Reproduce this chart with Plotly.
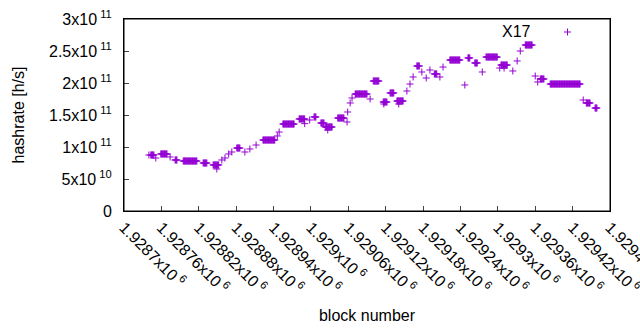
import plotly.graph_objects as go

# Runs of consecutive blocks sharing the same hashrate value (GH/s)
run_first_block = [1928740, 1928743, 1928751, 1928759, 1928774, 1928782, 1928795, 1928827,
                   1928843, 1928849, 1928857, 1928862, 1928868, 1928873, 1928881, 1928894,
                   1928902, 1928912, 1928923, 1928946, 1928949, 1928955, 1928981, 1928990,
                   1928998, 1929005, 1929016, 1929023, 1929027, 1929043, 1929058, 1929059,
                   1929063, 1929066, 1929071, 1929095, 1929100, 1929116, 1929117, 1929127,
                   1929138, 1929141, 1929154, 1929159, 1929164, 1929170, 1929178, 1929185,
                   1929191, 1929198, 1929207, 1929212, 1929223, 1929247, 1929252, 1929263,
                   1929275, 1929281, 1929303, 1929305, 1929310, 1929324, 1929331, 1929336,
                   1929344, 1929360, 1929364, 1929368, 1929384, 1929437, 1929442, 1929456]
run_last_block = [1928740, 1928748, 1928751, 1928769, 1928774, 1928785, 1928817, 1928833,
                  1928852, 1928849, 1928857, 1928862, 1928868, 1928873, 1928886, 1928894,
                  1928902, 1928912, 1928942, 1928946, 1928949, 1928973, 1928990, 1928990,
                  1928998, 1929008, 1929021, 1929034, 1929027, 1929053, 1929058, 1929059,
                  1929063, 1929066, 1929090, 1929095, 1929109, 1929122, 1929117, 1929133,
                  1929148, 1929141, 1929154, 1929159, 1929164, 1929174, 1929178, 1929185,
                  1929191, 1929202, 1929207, 1929212, 1929239, 1929247, 1929255, 1929267,
                  1929275, 1929299, 1929303, 1929315, 1929310, 1929324, 1929331, 1929336,
                  1929355, 1929360, 1929364, 1929374, 1929432, 1929437, 1929448, 1929459]
run_hashrate_gh = [87.5, 87.5, 82.8, 89.1, 84.4, 79.7, 78.1, 75.0,
                   71.9, 65.6, 79.7, 82.8, 89.1, 92.2, 98.4, 92.2,
                   96.9, 103.1, 110.9, 117.2, 123.4, 135.9, 143.8, 136.5,
                   142.2, 146.9, 137.5, 131.3, 126.6, 145.3, 139.1, 154.7,
                   168.8, 176.6, 182.8, 175.0, 203.1, 170.3, 167.2, 184.4,
                   171.9, 167.2, 187.5, 198.4, 209.4, 226.6, 217.2, 207.8,
                   220.3, 214.1, 209.4, 225.0, 235.9, 196.9, 239.1, 231.3,
                   217.2, 240.6, 223.4, 228.1, 223.4, 218.8, 234.4, 250.0,
                   259.4, 210.9, 201.6, 206.3, 198.4, 173.4, 168.8, 160.9]

x_tick_vals = [1928700, 1928760, 1928820, 1928880, 1928940, 1929000, 1929060,
               1929120, 1929180, 1929240, 1929300, 1929360, 1929420, 1929480]
x_tick_text = ["1.9287x10<sup> 6</sup>", "1.92876x10<sup> 6</sup>", "1.92882x10<sup> 6</sup>",
               "1.92888x10<sup> 6</sup>", "1.92894x10<sup> 6</sup>", "1.929x10<sup> 6</sup>",
               "1.92906x10<sup> 6</sup>", "1.92912x10<sup> 6</sup>", "1.92918x10<sup> 6</sup>",
               "1.92924x10<sup> 6</sup>", "1.9293x10<sup> 6</sup>", "1.92936x10<sup> 6</sup>",
               "1.92942x10<sup> 6</sup>", "1.92948x10<sup> 6</sup>"]
y_tick_vals = [0, 5e10, 1e11, 1.5e11, 2e11, 2.5e11, 3e11]
y_tick_text = ["0", "5x10<sup> 10</sup>", "1x10<sup> 11</sup>", "1.5x10<sup> 11</sup>",
               "2x10<sup> 11</sup>", "2.5x10<sup> 11</sup>", "3x10<sup> 11</sup>"]

series_name = "X17"
x_title = "block number"
y_title = "hashrate [h/s]"
color = "#9400D3"
font_family = "Liberation Sans, Arial, sans-serif"
fs = 16

blocks, rates = [], []
for first, last, h in zip(run_first_block, run_last_block, run_hashrate_gh):
    for b in range(first, last + 1):
        blocks.append(b)
        rates.append(h * 1e9)

fig = go.Figure()
fig.add_trace(go.Scatter(
    x=blocks, y=rates, mode="markers", name=series_name, showlegend=False,
    marker=dict(symbol="cross-thin", size=5, color=color,
                line=dict(color=color, width=1)),
))

axis_common = dict(showline=True, linecolor="black", linewidth=1, mirror=True,
                   ticks="inside", ticklen=5, showgrid=False,
                   zeroline=False, automargin=False, ticklabeloverflow="allow",
                   tickfont=dict(family=font_family, size=fs, color="black"))

fig.update_xaxes(range=[1928700, 1929480], tickvals=x_tick_vals, ticktext=x_tick_text,
                 tickangle=45,
                 title=dict(text=x_title, standoff=14,
                            font=dict(family=font_family, size=fs, color="black")),
                 **axis_common)
fig.update_yaxes(range=[0, 3e11], tickvals=y_tick_vals, ticktext=y_tick_text,
                 ticklabelstandoff=8,
                 title=dict(text=y_title, standoff=20,
                            font=dict(family=font_family, size=fs, color="black")),
                 **axis_common)

L, R, T, B = 124, 30, 19, 119
pw, ph = 640 - L - R, 330 - T - B

def px(x):
    return (x - L) / pw

def py(y):
    return (330 - B - y) / ph

# plot frame (fallback)
fig.add_shape(type="rect", xref="paper", yref="paper", x0=0, x1=1, y0=0, y1=1,
              line=dict(color="black", width=1), layer="above")

fig.add_annotation(text=series_name, x=px(533), y=py(31.5), xref="paper", yref="paper",
                   showarrow=False, xanchor="right", yanchor="middle",
                   font=dict(family=font_family, size=fs, color="black"))
# legend key sample (+)
cx, cy = 567.5, 32
fig.add_shape(type="line", xref="paper", yref="paper", x0=px(cx - 3.5), x1=px(cx + 3.5),
              y0=py(cy), y1=py(cy), line=dict(color=color, width=1))
fig.add_shape(type="line", xref="paper", yref="paper", x0=px(cx), x1=px(cx),
              y0=py(cy - 3.5), y1=py(cy + 3.5), line=dict(color=color, width=1))

fig.update_layout(width=640, height=330, autosize=False,
                  margin=dict(l=L, r=R, t=T, b=B, pad=0),
                  plot_bgcolor="white", paper_bgcolor="white",
                  font=dict(family=font_family, size=fs, color="black"))

fig.write_html("out.html", config={"displayModeBar": False},
               post_script="document.body.style.margin='0';document.body.style.overflow='hidden';")
